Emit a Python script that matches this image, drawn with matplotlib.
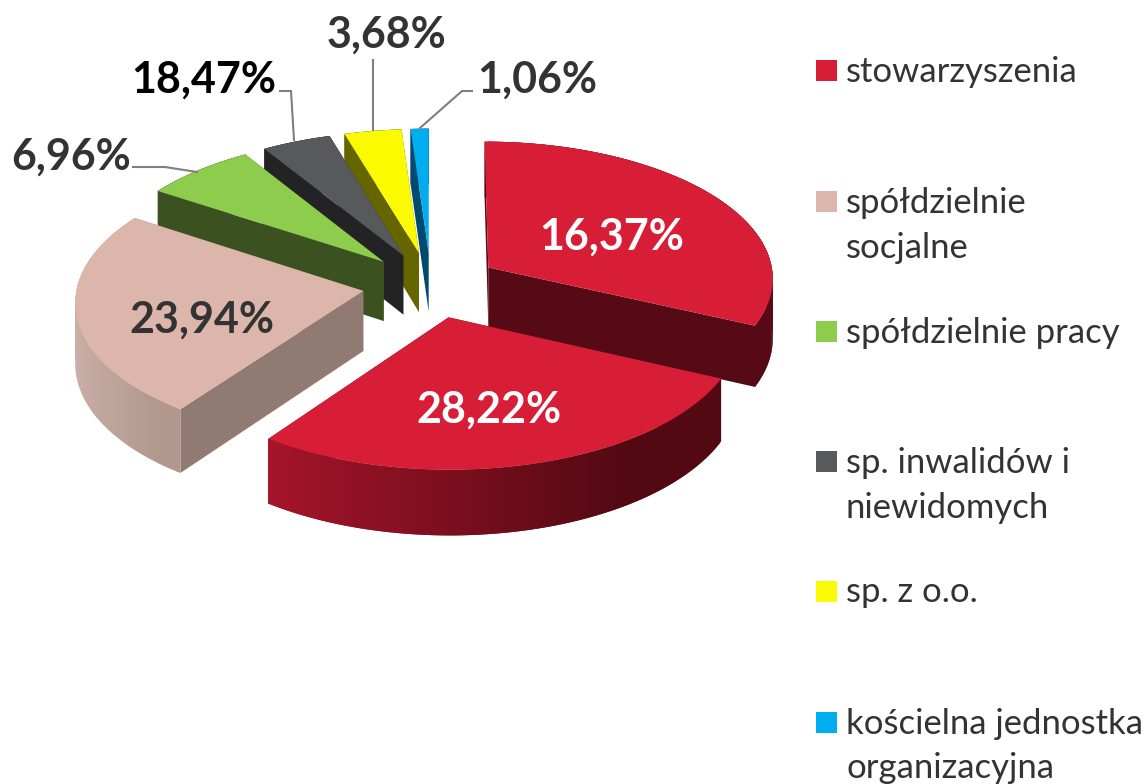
import numpy as np
import matplotlib
matplotlib.use("Agg")
from matplotlib import pyplot as plt
from matplotlib.colors import to_rgb

plt.rcParams['font.family'] = ['Lato', 'DejaVu Sans']

# udzialy odczytane z katow wycinkow (etykiety na wykresie nie pasuja do katow)
shares = [31.9, 28.1, 24.25, 6.9, 4.25, 3.5, 1.1]
value_labels = ['16,37%', '28,22%', '23,94%', '6,96%', '18,47%', '3,68%', '1,06%']
legend_labels = ['stowarzyszenia', 'spółdzielnie\nsocjalne', 'spółdzielnie pracy',
                 'sp. inwalidów i\nniewidomych', 'sp. z o.o.', 'kościelna jednostka\norganizacyjna']

top_colors = ['#d81e37', '#dcb5ab', '#8ecc4e', '#58595b', '#fafa00', '#00aeef']
# dwa pierwsze wycinki sa czerwone
slice_colors = [top_colors[0], top_colors[0], top_colors[1], top_colors[2], top_colors[3], top_colors[4], top_colors[5]]
cut_colors = ['#560a15', '#560a15', '#917a72', '#3b5220', '#232325', '#666600', '#004a6e']
wall_right = ['#560a15', '#520912', '#b2978d', '#3b5220', '#232325', '#666600', '#004a6e']
wall_left = ['#560a15', '#a5142a', '#c9aea5', '#3b5220', '#232325', '#666600', '#004a6e']

label_x = [612, 489, 202, 71, 204, 386, 537]
label_y = [237, 410, 320, 157, 80, 35, 80]
label_colors = ['white', 'white', '#333333', '#333333', 'black', '#333333', '#333333']
legend_y = [70.5, 201.5, 331.5, 461.5, 591.5, 722.5]
leaders = [([133, 165, 197], [167, 167, 172]),
           ([280, 291, 294], [91, 91, 140]),
           ([373, 373], [60, 130]),
           ([472, 462, 420], [91, 91, 128])]

CX, CY = 431, 285
S, SQ, K = 286, 137, 0.07
DEPTH = 60
EXPLODE = 0.24


def project(x, y, z=0.0):
    w = 1 + K * y
    return CX + S * x / w, CY - SQ * y / w + z * DEPTH / w


fig = plt.figure(figsize=(11.45, 7.84), dpi=100)
ax = fig.add_axes([0, 0, 1, 1])
ax.set_xlim(0, 1145)
ax.set_ylim(784, 0)
ax.axis('off')

edges = np.concatenate([[0], np.cumsum(shares)]) / np.sum(shares) * 2 * np.pi

# od tylu do przodu
order = [6, 5, 4, 3, 2, 0, 1]
for rank, i in enumerate(order):
    z = 2 + rank
    a0, a1 = edges[i], edges[i + 1]
    mid = (a0 + a1) / 2
    ox, oy = EXPLODE * np.sin(mid), EXPLODE * np.cos(mid)
    t = np.linspace(a0, a1, 160)
    ex, ey = ox + np.sin(t), oy + np.cos(t)

    # sciany radialne
    for a in (a0, a1):
        xs = [ox, ox + np.sin(a)]
        ys = [oy, oy + np.cos(a)]
        p0 = project(xs[0], ys[0])
        p1 = project(xs[1], ys[1])
        p2 = project(xs[1], ys[1], 1)
        p3 = project(xs[0], ys[0], 1)
        ax.fill([p0[0], p1[0], p2[0], p3[0]], [p0[1], p1[1], p2[1], p3[1]],
                color=cut_colors[i], lw=0, zorder=z)

    # sciana zewnetrzna, gradient zalezy od polozenia w poziomie
    top_x, top_y = project(ex, ey)
    bot_x, bot_y = project(ex, ey, 1)
    frac = (top_x.max() - top_x) / (top_x.max() - top_x.min())
    frac = np.clip((frac - 0.2) / 0.8, 0, 1)
    c_r, c_l = np.array(to_rgb(wall_right[i])), np.array(to_rgb(wall_left[i]))
    for j in range(len(t) - 1):
        k = min(j + 2, len(t) - 1)  # zachodza na siebie, bez szczelin
        ax.fill([top_x[j], top_x[k], bot_x[k], bot_x[j]],
                [top_y[j], top_y[k], bot_y[k], bot_y[j]],
                color=c_r + (c_l - c_r) * frac[j], lw=0, zorder=z)

    # gora wycinka
    tx, ty = project(np.concatenate([[ox], ex]), np.concatenate([[oy], ey]))
    ax.fill(tx, ty, color=slice_colors[i], lw=0, zorder=z)

for lx, ly in leaders:
    ax.plot(lx, ly, color='#7f7f7f', lw=1.5, zorder=20, solid_joinstyle='miter')

for txt, x, y, c in zip(value_labels, label_x, label_y, label_colors):
    ax.text(x, y, txt, color=c, fontsize=31, fontweight='bold', ha='center', va='center', zorder=30)

for txt, c, y in zip(legend_labels, top_colors, legend_y):
    ax.fill([816, 837, 837, 816], [y - 10.5, y - 10.5, y + 10.5, y + 10.5], color=c, lw=0, zorder=30)
    ax.text(846, y - 15, txt, color='#333333', fontsize=24.9, ha='left', va='top',
            linespacing=1.5, zorder=30)

fig.savefig('out.png', dpi=100)
